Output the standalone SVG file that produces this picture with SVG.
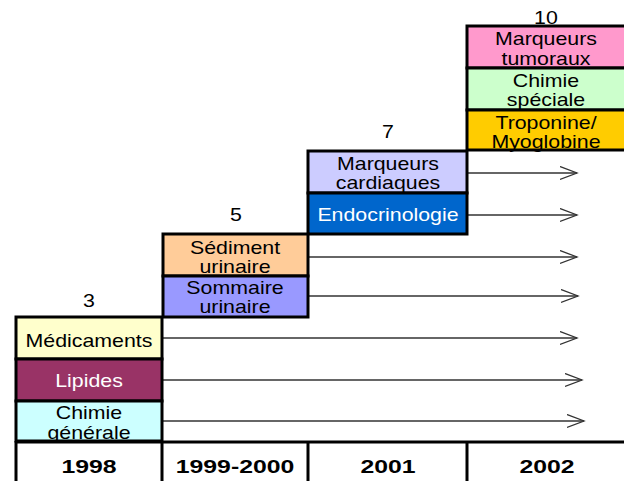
<svg xmlns="http://www.w3.org/2000/svg" width="624" height="481" viewBox="0 0 624 481">
<style>
.box{stroke:#000;stroke-width:3}
.t{font-family:"Liberation Sans",Arial,sans-serif;font-size:17.5px;text-anchor:middle;fill:#000}
.w{fill:#fff}
.y{font-family:"Liberation Sans",Arial,sans-serif;font-size:18.5px;font-weight:bold;text-anchor:middle;fill:#000}
.ln{stroke:#333;stroke-width:1.3;fill:none}
.grid{stroke:#000;stroke-width:3;fill:none}
</style>
<defs>
<marker id="ah" markerUnits="userSpaceOnUse" markerWidth="20" markerHeight="16" refX="17" refY="7" orient="auto">
<path d="M0,0.5 L17,7 L0,13.5" fill="none" stroke="#333" stroke-width="1.3"/>
</marker>
</defs>
<rect width="624" height="481" fill="#fff"/>

<g id="counts">
<text class="t" transform="translate(89 306.5) scale(1.22 1)">3</text>
<text class="t" transform="translate(236 221) scale(1.22 1)">5</text>
<text class="t" transform="translate(388 138) scale(1.22 1)">7</text>
<text class="t" transform="translate(546 24) scale(1.22 1)">10</text>
</g>

<g id="connectors">
<line class="ln" x1="467" y1="173" x2="577" y2="173" marker-end="url(#ah)"/>
<line class="ln" x1="467" y1="215" x2="577" y2="215" marker-end="url(#ah)"/>
<line class="ln" x1="308" y1="257" x2="577" y2="257" marker-end="url(#ah)"/>
<line class="ln" x1="308" y1="296" x2="578" y2="296" marker-end="url(#ah)"/>
<line class="ln" x1="162" y1="338" x2="577" y2="338" marker-end="url(#ah)"/>
<line class="ln" x1="162" y1="380" x2="582" y2="380" marker-end="url(#ah)"/>
<line class="ln" x1="162" y1="421" x2="584" y2="421" marker-end="url(#ah)"/>
</g>

<g id="marqueurs-tumoraux">
<rect class="box" x="467" y="26" width="160" height="42" fill="#FF99CC"/>
<text class="t" transform="translate(546 45) scale(1.22 1)">Marqueurs</text>
<text class="t" transform="translate(546 64.5) scale(1.22 1)">tumoraux</text>
</g>
<g id="chimie-speciale">
<rect class="box" x="467" y="68" width="160" height="42" fill="#CCFFCC"/>
<text class="t" transform="translate(546 87) scale(1.22 1)">Chimie</text>
<text class="t" transform="translate(546 106) scale(1.22 1)">spéciale</text>
</g>
<g id="troponine">
<rect class="box" x="467" y="110" width="160" height="40" fill="#FFCC00"/>
<text class="t" transform="translate(546 128.5) scale(1.22 1)">Troponine/</text>
<text class="t" transform="translate(546 147.5) scale(1.22 1)">Myoglobine</text>
</g>

<g id="marqueurs-cardiaques">
<rect class="box" x="308" y="151" width="159" height="42" fill="#CCCCFF"/>
<text class="t" transform="translate(388 170) scale(1.22 1)">Marqueurs</text>
<text class="t" transform="translate(388 188.5) scale(1.22 1)">cardiaques</text>
</g>
<g id="endocrinologie">
<rect class="box" x="308" y="193" width="159" height="41" fill="#0066CC"/>
<text class="t w" transform="translate(388 221) scale(1.22 1)">Endocrinologie</text>
</g>

<g id="sediment-urinaire">
<rect class="box" x="163" y="234" width="145" height="42" fill="#FFCC99"/>
<text class="t" transform="translate(235 253.5) scale(1.22 1)">Sédiment</text>
<text class="t" transform="translate(235 272.5) scale(1.22 1)">urinaire</text>
</g>
<g id="sommaire-urinaire">
<rect class="box" x="163" y="276" width="145" height="41" fill="#9999FF"/>
<text class="t" transform="translate(235 294) scale(1.22 1)">Sommaire</text>
<text class="t" transform="translate(235 313) scale(1.22 1)">urinaire</text>
</g>

<g id="medicaments">
<rect class="box" x="16" y="317" width="146" height="42" fill="#FFFFCC"/>
<text class="t" transform="translate(89 346.5) scale(1.22 1)">Médicaments</text>
</g>
<g id="lipides">
<rect class="box" x="16" y="359" width="146" height="42" fill="#993366"/>
<text class="t w" transform="translate(89 387) scale(1.22 1)">Lipides</text>
</g>
<g id="chimie-generale">
<rect class="box" x="16" y="401" width="146" height="40" fill="#CCFFFF"/>
<text class="t" transform="translate(89 419) scale(1.22 1)">Chimie</text>
<text class="t" transform="translate(89 439) scale(1.22 1)">générale</text>
</g>

<g id="years">
<rect x="14" y="443" width="612" height="40" fill="#fff"/>
<path class="grid" d="M16,442 H626 M16,441 V483 M162,441 V483 M308,441 V483 M467,441 V483"/>
<text class="y" transform="translate(89 472.5) scale(1.34 1)">1998</text>
<text class="y" transform="translate(235 472.5) scale(1.34 1)">1999-2000</text>
<text class="y" transform="translate(388 472.5) scale(1.34 1)">2001</text>
<text class="y" transform="translate(547 472.5) scale(1.34 1)">2002</text>
</g>
</svg>
